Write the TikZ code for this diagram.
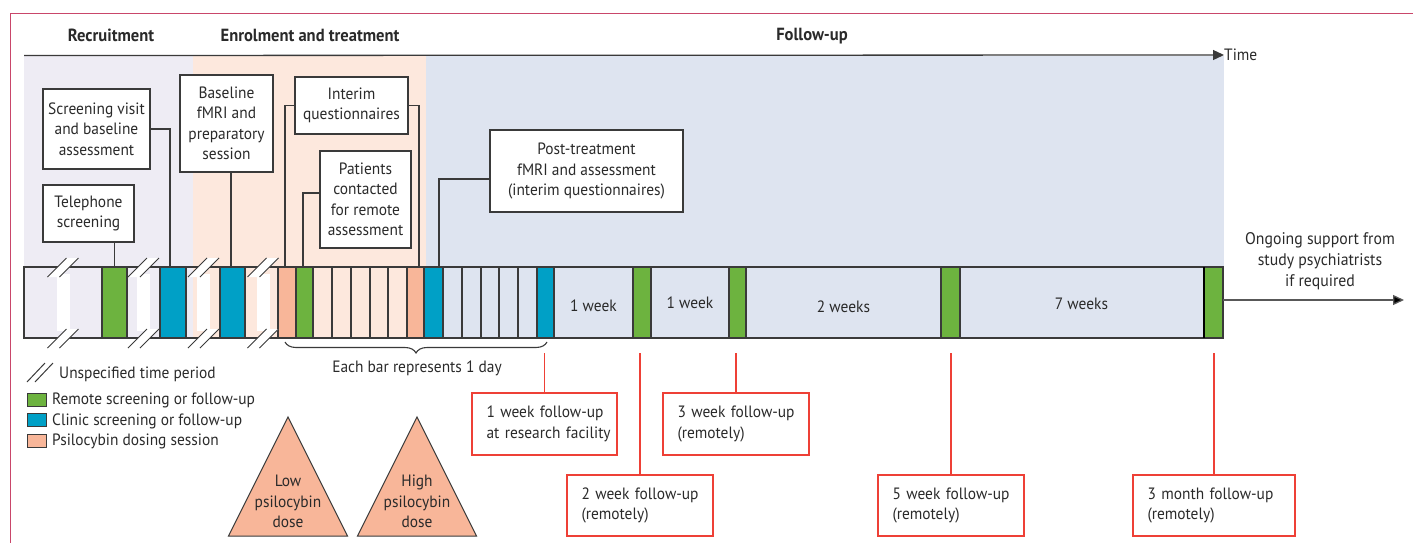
\documentclass[tikz,border=0pt]{standalone}
\usepackage{fontspec}
\setmainfont{PT Sans}[FakeStretch=0.94]
\usetikzlibrary{arrows.meta,calc,decorations.pathreplacing}
\definecolor{lav}{HTML}{EEECF4}
\definecolor{peach}{HTML}{FDE8DD}
\definecolor{lblue}{HTML}{DEE4F0}
\definecolor{grn}{HTML}{6DB33F}
\definecolor{blu}{HTML}{00A0C6}
\definecolor{sal}{HTML}{F8B699}
\definecolor{redc}{HTML}{EE4036}
\definecolor{framec}{HTML}{C9466A}
\definecolor{bordk}{HTML}{3A3A3A}
\definecolor{txt}{HTML}{2A2A2A}
\begin{document}
\begin{tikzpicture}[x=1pt,y=-1pt,
  every node/.style={font=\fontsize{16.4}{20.5}\selectfont, text=txt, inner sep=0pt},
  bbox/.style={draw=bordk, fill=white, line width=1.2pt, align=center},
  rbox/.style={draw=redc, fill=white, line width=1.2pt, align=left, inner xsep=14.5pt},
  conn/.style={draw=bordk, line width=1.2pt},
  rconn/.style={draw=redc, line width=1.2pt},
  cellline/.style={draw=bordk, line width=1.2pt},
  hdr/.style={font=\fontsize{17.6}{20}\selectfont\bfseries},
  legsq/.style={draw=bordk, line width=1pt, minimum width=19pt, minimum height=13pt},
  tri/.style={draw=bordk, fill=sal, line width=1pt}
]
\useasboundingbox (0,0) rectangle (1413,543);
% frame
\draw[framec, line width=1.3pt] (10.5,543) -- (10.5,13.5) -- (1413,13.5);
% phase shading
\fill[lav] (24,56) rectangle (193,338);
\fill[peach] (193,56) rectangle (426,338);
\fill[lblue] (426,56) rectangle (1224,338);
% headers
\node[hdr] (hRec) at (111,35) {Recruitment};
\node[hdr] (hEnr) at (310,35) {Enrolment and treatment};
\node[hdr] (hFol) at (812,36) {Follow-up};
% time axis
\node[anchor=west] (time) at (1224,55) {Time};
\coordinate (t0) at (24,55.5);
\draw[bordk, line width=1.3pt, -{Triangle[length=11pt,width=10pt]}] (t0) -- (time.west);
% coloured cells
\foreach \a/\b/\c in {102/127/grn,160/186/blu,220/245/blu,278/296/sal,296/313/grn,407/424/sal,424/443/blu,537/554/blu,633/651/grn,729/746/grn,941/960/grn,1204/1223/grn}
  \fill[\c] (\a,267) rectangle (\b,338);
% bar outline and dividers
\draw[cellline] (24,267) rectangle (1223,338);
\foreach \x in {102,127,160,186,220,245,278,296,313,332,351,370,388,407,424,443,462,481,499,518,537,554,633,651,729,746,941,960}
  \draw[cellline] (\x,267) -- (\x,338);
\draw[black, line width=2.2pt] (1204,267) -- (1204,338);
% breaks (unspecified time period)
\foreach \c in {63,143.5,203.5,263}{
  \fill[white] (\c-6.5,274) rectangle (\c+6.5,331);
  \fill[white] (\c-15.5,277) -- (\c+3.5,258) -- (\c+15.5,258) -- (\c-3.5,277) -- cycle;
  \fill[white] (\c-15.5,348) -- (\c+3.5,329) -- (\c+15.5,329) -- (\c-3.5,348) -- cycle;
  \draw[bordk, line width=1pt] (\c-15.5,277) -- (\c+3.5,258) (\c-3.5,277) -- (\c+15.5,258);
  \draw[bordk, line width=1pt] (\c-15.5,348) -- (\c+3.5,329) (\c-3.5,348) -- (\c+15.5,329);
}
% bar labels
\node (w1) at (593.5,306) {1 week};
\node (w2) at (690,303) {1 week};
\node (w3) at (843.5,307) {2 weeks};
\node (w4) at (1081.5,304) {7 weeks};
% ongoing support
\node[align=center, font=\fontsize{16.8}{21}\selectfont] (ongo) at (1320,261) {Ongoing support from\\study psychiatrists\\if required};
\coordinate (oStart) at (1223,300);
\coordinate (oEnd) at (1404,300);
\draw[draw=bordk!85, line width=1.3pt, -{Triangle[length=11pt,width=10pt,fill=black]}] (oStart) -- (oEnd);
% black callout boxes
\node[bbox, minimum width=107pt, minimum height=80pt] (scr) at (96.5,129) {Screening visit\\and baseline\\assessment};
\node[bbox, minimum width=91pt, minimum height=57pt] (tel) at (88.5,213.5) {Telephone\\screening};
\node[bbox, minimum width=93pt, minimum height=97pt] (base) at (226.5,123.5) {Baseline\\fMRI and\\preparatory\\session};
\node[bbox, minimum width=113pt, minimum height=57pt] (interim) at (351.5,105.5) {Interim\\questionnaires};
\node[bbox, minimum width=91pt, minimum height=97pt] (patients) at (365.5,199.5) {Patients\\contacted\\for remote\\assessment};
\node[bbox, minimum width=193pt, minimum height=82pt] (post) at (586.5,171) {Post-treatment\\fMRI and assessment\\(interim questionnaires)};
% bar-top targets
\coordinate (tGreen1) at (114.5,267);
\coordinate (tBlue1) at (170,267);
\coordinate (tBlue2) at (231,267);
\coordinate (tSal1) at (285,267);
\coordinate (tGreen2) at (303,267);
\coordinate (tSal2) at (419,267);
\coordinate (tBlue3) at (439,267);
\draw[conn] (tGreen1 |- tel.south) -- (tGreen1);
\draw[conn] (scr.east) -| (tBlue1);
\draw[conn] (tBlue2 |- base.south) -- (tBlue2);
\draw[conn] (interim.west) -| (tSal1);
\draw[conn] (interim.east) -| (tSal2);
\draw[conn] ([yshift=6.5pt]patients.west) -| (tGreen2);
\draw[conn] ([yshift=-8pt]post.west) -| (tBlue3);
% brace
\coordinate (brL) at (285,342);
\coordinate (brR) at (547,342);
\draw[bordk, line width=1.1pt, decorate, decoration={brace, mirror, amplitude=11pt}] (brL) -- (brR);
\node (each) at (417,368) {Each bar represents 1 day};
% red follow-up boxes
\node[rbox, text width=116pt, minimum height=62pt] (r1) at (544.5,424) {\mbox{1 week follow-up}\\\mbox{at research facility}};
\node[rbox, text width=117pt, minimum height=61pt] (r2) at (640,505.5) {\mbox{2 week follow-up}\\(remotely)};
\node[rbox, text width=117pt, minimum height=62pt] (r3) at (736,424) {\mbox{3 week follow-up}\\(remotely)};
\node[rbox, text width=117pt, minimum height=61pt] (r5) at (951,505.5) {\mbox{5 week follow-up}\\(remotely)};
\node[rbox, text width=133pt, minimum height=61pt] (r3m) at (1214,505.5) {\mbox{3 month follow-up}\\(remotely)};
\coordinate (b1) at (544.5,353);
\coordinate (b2) at (640,353);
\coordinate (b3) at (736,353);
\coordinate (b5) at (951,353);
\coordinate (b3m) at (1214,353);
\draw[rconn] (b1) -- (r1.north);
\draw[rconn] (b2) -- (r2.north);
\draw[rconn] (b3) -- (r3.north);
\draw[rconn] (b5) -- (r5.north);
\draw[rconn] (b3m) -- (r3m.north);
% legend
\draw[bordk, line width=1pt] (27,382) -- (45,363) (35,382) -- (53,363);
\node[anchor=west] (lg0) at (59,374) {Unspecified time period};
\node[legsq, fill=grn] (sq1) at (36.5,399.5) {};
\node[anchor=west] (lg1) at (52,400) {Remote screening or follow-up};
\node[legsq, fill=blu] (sq2) at (36.5,420) {};
\node[anchor=west] (lg2) at (52,421) {Clinic screening or follow-up};
\node[legsq, fill=sal] (sq3) at (36.5,440.5) {};
\node[anchor=west] (lg3) at (52,441) {Psilocybin dosing session};
% triangles
\draw[tri] (288,417) -- (347.5,536) -- (228.5,536) -- cycle;
\node[align=center] (low) at (288,501.5) {Low\\psilocybin\\dose};
\draw[tri] (417,417) -- (476.5,536) -- (357.5,536) -- cycle;
\node[align=center] (high) at (417,501.5) {High\\psilocybin\\dose};
\end{tikzpicture}
\end{document}
